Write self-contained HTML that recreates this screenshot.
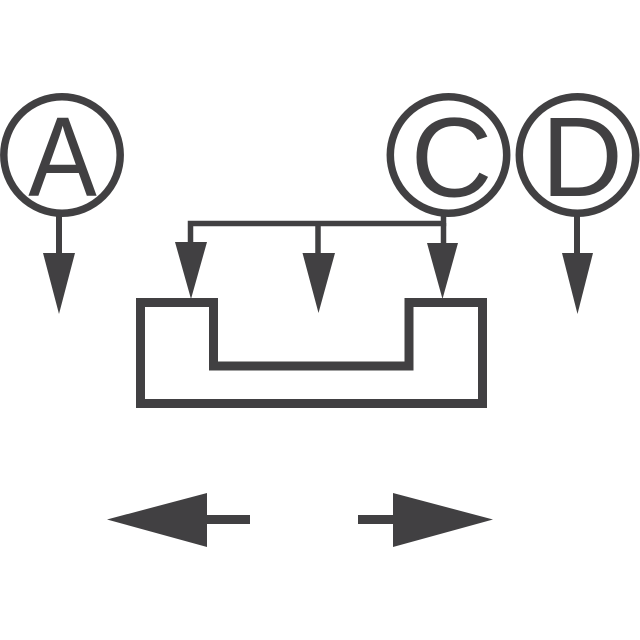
<!DOCTYPE html>
<html>
<head>
<meta charset="utf-8">
<style>
  html, body { margin: 0; padding: 0; background: #ffffff; }
  svg { display: block; }
</style>
</head>
<body>
<svg width="640" height="640" viewBox="0 0 640 640" xmlns="http://www.w3.org/2000/svg">
  <g fill="none" stroke="#414042">
    <!-- circles -->
    <circle cx="62" cy="155" r="58.2" stroke-width="7.5"/>
    <circle cx="448.5" cy="155" r="58.2" stroke-width="7.5"/>
    <circle cx="577.5" cy="155" r="58.2" stroke-width="7.5"/>
    <!-- stems -->
    <line x1="59" y1="216" x2="59" y2="256" stroke-width="6"/>
    <line x1="577" y1="216" x2="577" y2="256" stroke-width="6"/>
    <!-- top bracket -->
    <polyline points="190.5,246 190.5,223.5 443.5,223.5 443.5,216" stroke-width="5.5"/>
    <line x1="443.5" y1="223" x2="443.5" y2="246" stroke-width="5.5"/>
    <line x1="318" y1="223" x2="318" y2="256" stroke-width="5.5"/>
    <!-- main shape -->
    <path d="M140.5,302.5 H213.5 V366 H409 V302.5 H482.5 V403.5 H140.5 Z" stroke-width="9"/>
    <!-- bottom stems -->
    <line x1="205" y1="519.5" x2="250" y2="519.5" stroke-width="9"/>
    <line x1="358" y1="519.5" x2="395" y2="519.5" stroke-width="9"/>
  </g>
  <g fill="#414042" stroke="none">
    <!-- arrowheads -->
    <polygon points="43,253 75,253 59,314"/>
    <polygon points="562,253 593,253 577.5,314"/>
    <polygon points="175,242 207,242 191,299"/>
    <polygon points="302.5,253 335,253 318.5,313"/>
    <polygon points="427,243 458,243 442.5,299"/>
    <polygon points="107,519.5 207,493 207,547"/>
    <polygon points="493,519.5 393,493 393,547"/>
    <!-- letters -->
    <g transform="translate(62.5,196) scale(0.91,1)">
      <text x="0" y="0" text-anchor="middle" font-family="Liberation Sans, Arial, sans-serif" font-size="113">A</text>
    </g>
    <text x="451.5" y="196.5" text-anchor="middle" font-family="Liberation Sans, Arial, sans-serif" font-size="113">C</text>
    <text x="582" y="196" text-anchor="middle" font-family="Liberation Sans, Arial, sans-serif" font-size="113">D</text>
  </g>
</svg>
</body>
</html>
